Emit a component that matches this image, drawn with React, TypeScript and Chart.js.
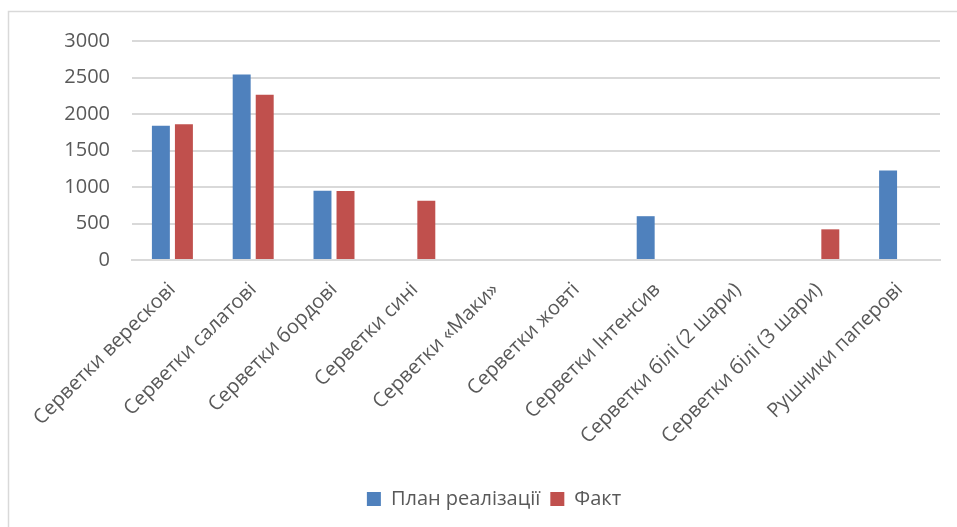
import React, { useEffect, useRef } from "react";
import { Chart, registerables } from "chart.js";

Chart.register(...registerables);

const categories = [
  "Серветки верескові",
  "Серветки салатові",
  "Серветки бордові",
  "Серветки сині",
  "Серветки «Маки»",
  "Серветки жовті",
  "Серветки Інтенсив",
  "Серветки білі (2 шари)",
  "Серветки білі (3 шари)",
  "Рушники паперові",
];
const planValues = [1840, 2540, 950, null, null, null, 600, null, null, 1225];
const factValues = [1860, 2265, 945, 810, null, null, null, null, 420, null];
const seriesNames = ["План реалізації", "Факт"];
const yTicks = [0, 500, 1000, 1500, 2000, 2500, 3000];

const FONT = "'Open Sans', sans-serif";
const TEXT = "#595959";
const GRID = "#D9D9D9";

const borderPlugin = {
  id: "outerBorder",
  beforeDraw(chart: any) {
    const ctx = chart.ctx;
    ctx.save();
    ctx.strokeStyle = GRID;
    ctx.lineWidth = 1.5;
    ctx.beginPath();
    ctx.moveTo(8.5, chart.height + 5);
    ctx.lineTo(8.5, 11.5);
    ctx.lineTo(chart.width + 5, 11.5);
    ctx.stroke();
    ctx.restore();
  },
};

export default function App() {
  const ref = useRef<HTMLCanvasElement | null>(null);
  useEffect(() => {
    if (!ref.current) return;
    const chart = new Chart(ref.current, {
      type: "bar",
      data: {
        labels: categories,
        datasets: [
          {
            label: seriesNames[0],
            data: planValues,
            backgroundColor: "#4F81BD",
            categoryPercentage: 0.57,
            barPercentage: 0.78,
          },
          {
            label: seriesNames[1],
            data: factValues,
            backgroundColor: "#C0504D",
            categoryPercentage: 0.57,
            barPercentage: 0.78,
          },
        ],
      },
      options: {
        responsive: false,
        animation: false,
        layout: { padding: { top: 41, right: 17, left: 48, bottom: 8 } },
        plugins: {
          tooltip: { enabled: false },
          legend: {
            position: "bottom",
            labels: {
              boxWidth: 14,
              boxHeight: 14,
              padding: 10,
              color: TEXT,
              font: { family: FONT, size: 20 },
            },
          },
        },
        scales: {
          x: {
            grid: { display: false, drawTicks: false },
            border: { display: true, color: GRID, width: 2 },
            ticks: {
              autoSkip: false,
              maxRotation: 45,
              minRotation: 45,
              padding: 18,
              color: TEXT,
              font: { family: FONT, size: 20 },
            },
            afterFit(scale: any) {
              scale.height = 219;
            },
          },
          y: {
            min: 0,
            max: 3000,
            afterBuildTicks(scale: any) {
              scale.ticks = yTicks.map((v) => ({ value: v }));
            },
            grid: { color: GRID, lineWidth: 2, drawTicks: false },
            border: { display: false },
            ticks: {
              padding: 22,
              color: TEXT,
              font: { family: FONT, size: 20 },
              callback: (v: any) => String(v),
            },
            afterFit(scale: any) {
              scale.width = 84;
            },
          },
        },
      },
      plugins: [borderPlugin],
    });
    return () => chart.destroy();
  }, []);
  return (
    <div style={{ position: "fixed", left: 0, top: 0, width: 957, height: 527, background: "#fff" }}>
      <canvas ref={ref} width={957} height={527} style={{ width: 957, height: 527, display: "block" }} />
    </div>
  );
}
